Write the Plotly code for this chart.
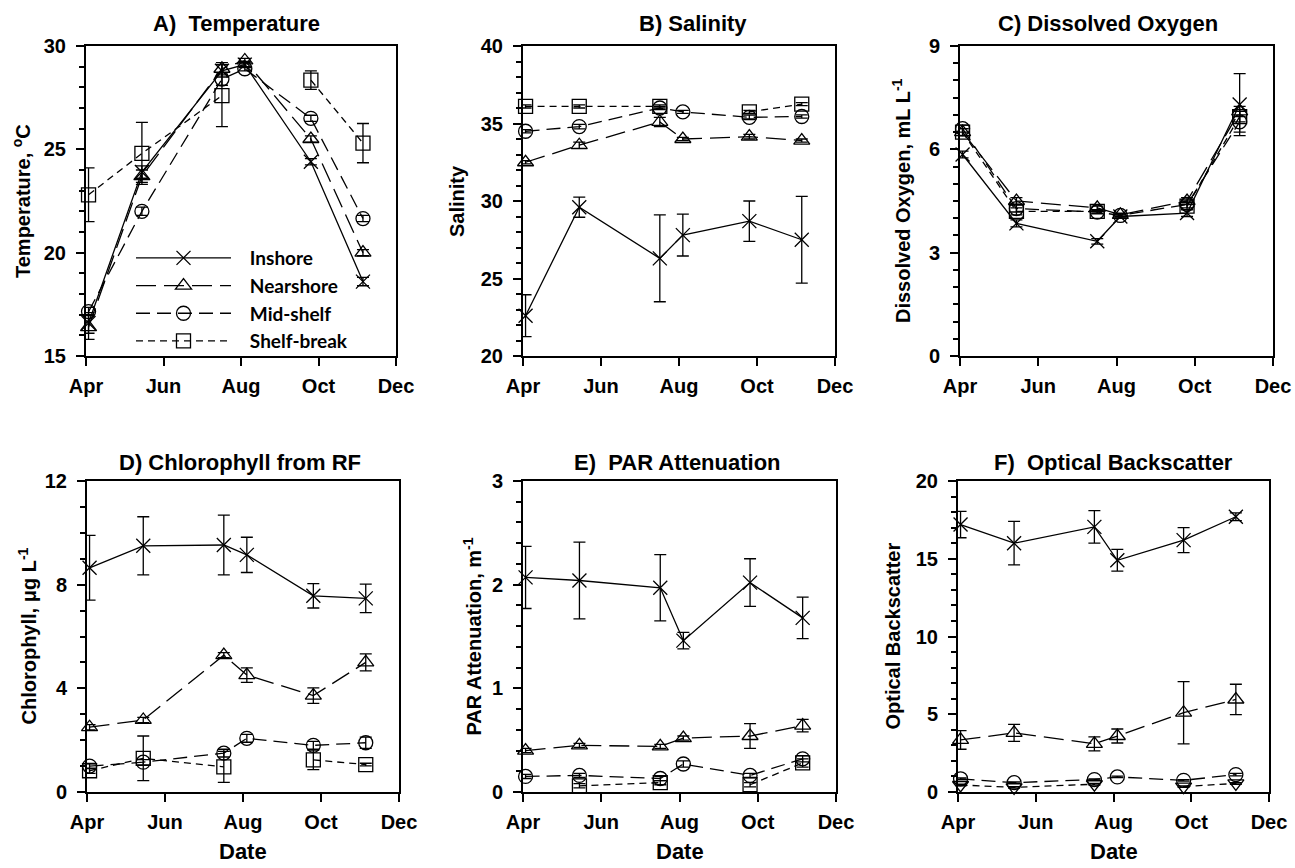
import plotly.graph_objects as go

# ---------------- data ----------------
dates = ['2011-04-03', '2011-05-15', '2011-07-17', '2011-08-04', '2011-09-25', '2011-11-05']
month_ticks = ['2011-04-01', '2011-06-01', '2011-08-01', '2011-10-01', '2011-12-01']
month_labels = ['Apr', 'Jun', 'Aug', 'Oct', 'Dec']
stations = ['Inshore', 'Nearshore', 'Mid-shelf', 'Shelf-break']

# A) Temperature
temp_inshore = [16.6, 23.9, 28.8, 29.1, 24.4, 18.6]
temp_inshore_se = [0.5, 0.3, 0.3, 0.15, 0.15, 0.2]
temp_nearshore = [16.4, 23.7, 28.9, 29.3, 25.5, 20.0]
temp_nearshore_se = [0.6, 0.3, 0.3, 0.1, 0.15, 0.15]
temp_midshelf = [17.15, 22.0, 28.4, 28.9, 26.5, 21.65]
temp_midshelf_se = [0.2, 0.2, 0.3, 0.1, 0.15, 0.15]
temp_shelfbreak = [22.8, 24.8, 27.6, None, 28.35, 25.3]
temp_shelfbreak_se = [1.3, 1.5, 1.5, 0, 0.45, 0.95]

# B) Salinity
sal_inshore = [22.6, 29.6, 26.3, 27.8, 28.7, 27.5]
sal_inshore_se = [1.35, 0.65, 2.8, 1.35, 1.3, 2.8]
sal_nearshore = [32.5, 33.6, 35.1, 34.0, 34.15, 33.9]
sal_nearshore_se = [0.1, 0.2, 0.3, 0.1, 0.15, 0.1]
sal_midshelf = [34.5, 34.8, 36.0, 35.75, 35.4, 35.45]
sal_midshelf_se = [0.1, 0.15, 0.1, 0.1, 0.15, 0.1]
sal_shelfbreak = [36.1, 36.1, 36.1, None, 35.75, 36.25]
sal_shelfbreak_se = [0.1, 0.1, 0.1, 0, 0.1, 0.1]

# C) Dissolved oxygen
do_inshore = [5.85, 3.85, 3.33, 4.05, 4.15, 7.3]
do_inshore_se = [0.1, 0.1, 0.08, 0.05, 0.1, 0.9]
do_nearshore = [6.5, 4.5, 4.3, 4.1, 4.5, 7.1]
do_nearshore_se = [0.1, 0.1, 0.05, 0.05, 0.1, 0.15]
do_midshelf = [6.6, 4.28, 4.18, 4.08, 4.4, 6.8]
do_midshelf_se = [0.1, 0.1, 0.05, 0.05, 0.1, 0.3]
do_shelfbreak = [6.5, 4.2, 4.2, None, 4.35, 6.95]
do_shelfbreak_se = [0.1, 0.1, 0.05, 0, 0.1, 0.15]

# D) Chlorophyll
chl_inshore = [8.65, 9.5, 9.53, 9.15, 7.57, 7.47]
chl_inshore_se = [1.25, 1.12, 1.15, 0.68, 0.47, 0.55]
chl_nearshore = [2.5, 2.78, 5.28, 4.51, 3.72, 5.0]
chl_nearshore_se = [0.1, 0.1, 0.1, 0.28, 0.3, 0.33]
chl_midshelf = [1.0, 1.15, 1.5, 2.07, 1.8, 1.9]
chl_midshelf_se = [0.1, 0.1, 0.15, 0.15, 0.15, 0.22]
chl_shelfbreak = [0.82, 1.3, 0.97, None, 1.24, 1.06]
chl_shelfbreak_se = [0.1, 0.86, 0.6, 0, 0.38, 0.05]

# E) PAR attenuation
par_inshore = [2.07, 2.04, 1.97, 1.46, 2.02, 1.68]
par_inshore_se = [0.3, 0.37, 0.32, 0.08, 0.23, 0.2]
par_nearshore = [0.40, 0.45, 0.44, 0.52, 0.54, 0.64]
par_nearshore_se = [0.02, 0.02, 0.02, 0.02, 0.12, 0.06]
par_midshelf = [0.15, 0.16, 0.13, 0.27, 0.16, 0.32]
par_midshelf_se = [0.02, 0.02, 0.02, 0.03, 0.02, 0.03]
par_shelfbreak = [None, 0.06, 0.09, None, 0.07, 0.28]
par_shelfbreak_se = [0, 0.02, 0.02, 0, 0.02, 0.04]

# F) Optical backscatter
obs_inshore = [17.2, 16.0, 17.05, 14.9, 16.2, 17.7]
obs_inshore_se = [0.85, 1.4, 1.05, 0.7, 0.8, 0.25]
obs_nearshore = [3.35, 3.8, 3.1, 3.6, 5.1, 5.95]
obs_nearshore_se = [0.6, 0.55, 0.45, 0.45, 2.0, 0.98]
obs_midshelf = [0.85, 0.6, 0.8, 0.97, 0.75, 1.12]
obs_midshelf_se = [0.05, 0.05, 0.05, 0.05, 0.05, 0.08]
obs_shelfbreak = [0.45, 0.3, 0.5, None, 0.35, 0.55]
obs_shelfbreak_se = [0.05, 0.05, 0.05, 0, 0.05, 0.05]

# ---------------- styling ----------------
W, H = 1295, 868
FONT = 'Liberation Sans, Arial, sans-serif'
line_dash = ['solid', '20px,8px', '14px,7px', '7px,5px']
symbols = ['x-thin', 'triangle-up-open', 'circle-open', 'square-open']
NB = '\u00a0\u00a0\u00a0'

panels = [
    dict(title='A)  Temperature', ytitle='Temperature, <sup>o</sup>C', yr=[15, 30], dt=5, mn=1,
         box=(86, 396, 46, 356), tx=236, ty=23, yx=22, xt=False,
         series=[(temp_inshore, temp_inshore_se), (temp_nearshore, temp_nearshore_se),
                 (temp_midshelf, temp_midshelf_se), (temp_shelfbreak, temp_shelfbreak_se)]),
    dict(title='B) Salinity', ytitle='Salinity', yr=[20, 40], dt=5, mn=1,
         box=(523, 835, 46, 356), tx=693, ty=23, yx=457, xt=False,
         series=[(sal_inshore, sal_inshore_se), (sal_nearshore, sal_nearshore_se),
                 (sal_midshelf, sal_midshelf_se), (sal_shelfbreak, sal_shelfbreak_se)]),
    dict(title='C) Dissolved Oxygen', ytitle='Dissolved Oxygen, mL L<sup>-1</sup>', yr=[0, 9], dt=3, mn=0.5,
         box=(960, 1273, 46, 356), tx=1108, ty=23, yx=902, xt=False,
         series=[(do_inshore, do_inshore_se), (do_nearshore, do_nearshore_se),
                 (do_midshelf, do_midshelf_se), (do_shelfbreak, do_shelfbreak_se)]),
    dict(title='D) Chlorophyll from RF', ytitle='Chlorophyll, \u03bcg L<sup>-1</sup>', yr=[0, 12], dt=4, mn=1,
         box=(87, 399, 481, 792), tx=240, ty=462, yx=27, xt=True,
         series=[(chl_inshore, chl_inshore_se), (chl_nearshore, chl_nearshore_se),
                 (chl_midshelf, chl_midshelf_se), (chl_shelfbreak, chl_shelfbreak_se)]),
    dict(title='E)  PAR Attenuation', ytitle='PAR Attenuation, m<sup>-1</sup>', yr=[0, 3], dt=1, mn=0.2,
         box=(523, 836, 481, 792), tx=677, ty=462, yx=472, xt=True,
         series=[(par_inshore, par_inshore_se), (par_nearshore, par_nearshore_se),
                 (par_midshelf, par_midshelf_se), (par_shelfbreak, par_shelfbreak_se)]),
    dict(title='F)  Optical Backscatter', ytitle='Optical Backscatter', yr=[0, 20], dt=5, mn=1,
         box=(958, 1269, 481, 792), tx=1113, ty=462, yx=892, xt=True,
         series=[(obs_inshore, obs_inshore_se), (obs_nearshore, obs_nearshore_se),
                 (obs_midshelf, obs_midshelf_se), (obs_shelfbreak, obs_shelfbreak_se)]),
]

fig = go.Figure()
layout = dict(
    width=W, height=H, autosize=False,
    margin=dict(l=0, r=0, t=0, b=0, pad=0, autoexpand=False),
    paper_bgcolor='white', plot_bgcolor='white',
    font=dict(family=FONT, size=19, color='black', weight='bold'),
    showlegend=True,
    legend=dict(x=131 / W, y=1 - 239 / H, xanchor='left', yanchor='top',
                font=dict(family='Lato, Liberation Sans, sans-serif', size=19, weight='bold'),
                itemwidth=95, bgcolor='rgba(0,0,0,0)', tracegroupgap=0, traceorder='normal'),
)
annotations = []

for i, p in enumerate(panels):
    n = '' if i == 0 else str(i + 1)
    l, r, t, b = p['box']
    xa = dict(domain=[l / W, r / W], type='date', automargin=False,
              range=[month_ticks[0], month_ticks[-1]],
              tickvals=month_ticks, ticktext=month_labels,
              ticks='outside', ticklen=8, tickwidth=2, tickcolor='black',
              showline=True, linewidth=2, linecolor='black', mirror=True,
              showgrid=False, zeroline=False, ticklabelstandoff=3,
              tickfont=dict(family=FONT, size=20, weight='bold', color='black'),
              anchor='y' + n)
    ya = dict(domain=[1 - b / H, 1 - t / H], range=p['yr'], dtick=p['dt'], tick0=0,
              automargin=False,
              ticks='outside', ticklen=8, tickwidth=2, tickcolor='black',
              minor=dict(dtick=p['mn'], ticks='outside', ticklen=5, tickwidth=1.5, tickcolor='black'),
              showline=True, linewidth=2, linecolor='black', mirror=True,
              showgrid=False, zeroline=False, ticklabelstandoff=6,
              tickfont=dict(family=FONT, size=20, weight='bold', color='black'),
              anchor='x' + n)
    layout['xaxis' + n] = xa
    layout['yaxis' + n] = ya

    for k, (vals, se) in enumerate(p['series']):
        sym = symbols[k]
        if i == 5 and k == 3:
            sym = 'triangle-down-open'
        fig.add_trace(go.Scatter(
            x=dates, y=vals, name=NB + stations[k], mode='lines+markers',
            xaxis='x' + n, yaxis='y' + n, showlegend=(i == 0), legendgroup=stations[k],
            line=dict(color='black', width=1.3, dash=line_dash[k]),
            marker=dict(symbol=sym, size=14, color='black',
                        line=dict(color='black', width=1.3)),
            error_y=dict(type='data', array=se, symmetric=True, color='black',
                         thickness=1.3, width=6),
            cliponaxis=False, hoverinfo='skip',
        ))

    annotations.append(dict(text=p['title'], x=p['tx'] / W, y=1 - p['ty'] / H,
                            xref='paper', yref='paper', showarrow=False,
                            xanchor='center', yanchor='middle',
                            font=dict(family=FONT, size=22, weight='bold', color='black')))
    annotations.append(dict(text=p['ytitle'], x=p['yx'] / W, y=1 - ((t + b) / 2) / H,
                            xref='paper', yref='paper', showarrow=False, textangle=-90,
                            xanchor='center', yanchor='middle',
                            font=dict(family=FONT, size=20, weight='bold', color='black')))
    if p['xt']:
        annotations.append(dict(text='Date', x=((l + r) / 2) / W, y=1 - 851 / H,
                                xref='paper', yref='paper', showarrow=False,
                                xanchor='center', yanchor='middle',
                                font=dict(family=FONT, size=22, weight='bold', color='black')))

layout['annotations'] = annotations
fig.update_layout(**layout)
fig.write_html('out.html', config={'displayModeBar': False},
               post_script="document.body.style.margin='0';document.body.style.overflow='hidden';")
